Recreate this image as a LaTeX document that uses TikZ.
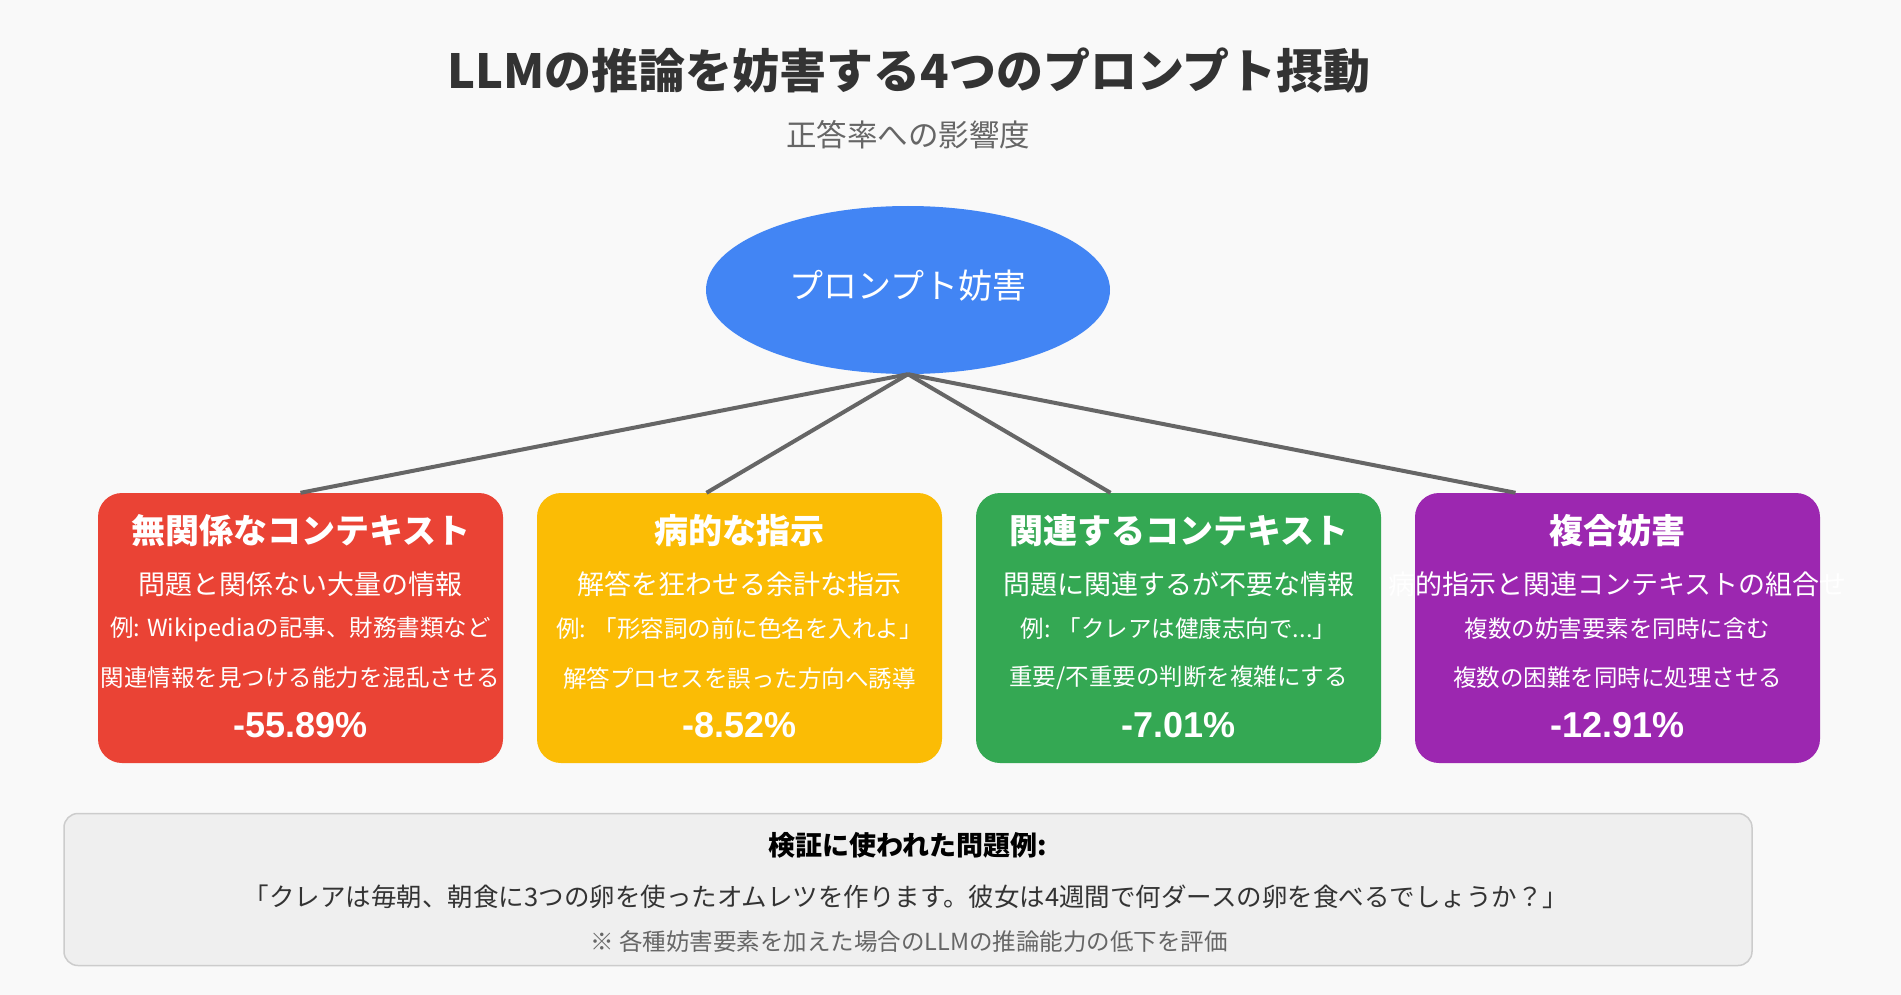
\documentclass[tikz,border=0pt]{standalone}
\usepackage{fontspec}
\setmainfont{Noto Sans CJK JP}
\newfontfamily\numfont{Liberation Sans}
\usetikzlibrary{shapes.geometric}
\definecolor{bgc}{HTML}{F9F9F9}
\definecolor{ttl}{HTML}{333333}
\definecolor{sub}{HTML}{666666}
\definecolor{rootc}{HTML}{4285F4}
\definecolor{redc}{HTML}{EA4335}
\definecolor{yelc}{HTML}{FBBC05}
\definecolor{grnc}{HTML}{34A853}
\definecolor{purc}{HTML}{9C27B0}
\definecolor{notec}{HTML}{EFEFEF}
\definecolor{notebd}{HTML}{CCCCCC}
\newcommand{\fsz}[1]{\fontsize{#1}{#1}\selectfont}
\tikzset{
  card/.style={fill=#1, rounded corners=24pt, minimum width=405pt, minimum height=270pt, inner sep=0pt},
  ctitle/.style={text=white, font=\fsz{34}\bfseries, inner sep=0pt},
  cdesc/.style={text=white, font=\fsz{27}, inner sep=0pt},
  cex/.style={text=white, font=\fsz{23.5}, inner sep=0pt},
  cpct/.style={text=white, font=\numfont\fsz{36}\bfseries, inner sep=0pt},
  link/.style={draw=sub, line width=4pt},
}
\begin{document}
\begin{tikzpicture}[x=1pt,y=-1pt]
  \useasboundingbox (0,0) rectangle (1901,995);
  \fill[bgc] (0,0) rectangle (1901,995);
  \node[font=\fsz{47}\bfseries, text=ttl, inner sep=0pt] (title) at (909,71) {LLMの推論を妨害する4つのプロンプト摂動};
  \node[font=\fsz{30.5}, text=sub, inner sep=0pt] (subtitle) at (908,135) {正答率への影響度};
  \node[ellipse, fill=rootc, minimum width=404pt, minimum height=168pt, inner sep=0pt] (root) at (908,290) {};
  \node[text=white, font=\fsz{34}, inner sep=0pt] (rootlbl) at (908,286) {プロンプト妨害};

  \node[card=redc] (b1) at (300.5,628) {};
  \node[ctitle] (b1t) at (300.5,531) {無関係なコンテキスト};
  \node[cdesc] (b1d) at (300.5,584) {問題と関係ない大量の情報};
  \node[cex] (b1e) at (300.5,629) {例: Wikipediaの記事、財務書類など};
  \node[cex] (b1f) at (300.5,678) {関連情報を見つける能力を混乱させる};
  \node[cpct] (b1p) at (300.5,725) {-55.89\%};

  \node[card=yelc] (b2) at (739.5,628) {};
  \node[ctitle] (b2t) at (739.5,531) {病的な指示};
  \node[cdesc] (b2d) at (739.5,584) {解答を狂わせる余計な指示};
  \node[cex] (b2e) at (739.5,629) {例: 「形容詞の前に色名を入れよ」};
  \node[cex] (b2f) at (739.5,678) {解答プロセスを誤った方向へ誘導};
  \node[cpct] (b2p) at (739.5,725) {-8.52\%};

  \node[card=grnc] (b3) at (1178.5,628) {};
  \node[ctitle] (b3t) at (1178.5,531) {関連するコンテキスト};
  \node[cdesc] (b3d) at (1178.5,584) {問題に関連するが不要な情報};
  \node[cex] (b3e) at (1178.5,629) {例: 「クレアは健康志向で...」};
  \node[cex] (b3f) at (1178.5,678) {重要/不重要の判断を複雑にする};
  \node[cpct] (b3p) at (1178.5,725) {-7.01\%};

  \node[card=purc] (b4) at (1617.5,628) {};
  \node[ctitle] (b4t) at (1617.5,531) {複合妨害};
  \node[cdesc] (b4d) at (1617.5,584) {病的指示と関連コンテキストの組合せ};
  \node[cex] (b4e) at (1617.5,629) {複数の妨害要素を同時に含む};
  \node[cex] (b4f) at (1617.5,678) {複数の困難を同時に処理させる};
  \node[cpct] (b4p) at (1617.5,725) {-12.91\%};

  \foreach \b/\dx in {b1/0, b2/-33, b3/-68, b4/-102}
    \draw[link] (root.south) -- ([xshift=\dx pt]\b.north);

  \node[draw=notebd, fill=notec, line width=1.5pt, rounded corners=14pt, minimum width=1688pt, minimum height=152pt] (note) at (908,889.5) {};
  \node[font=\fsz{27}\bfseries, inner sep=0pt] (notet) at (908,845) {検証に使われた問題例:};
  \node[font=\fsz{25.5}, text=ttl, inner sep=0pt] (noteq) at (906,897) {「クレアは毎朝、朝食に3つの卵を使ったオムレツを作ります。彼女は4週間で何ダースの卵を食べるでしょうか？」};
  \node[font=\fsz{23.5}, text=sub, inner sep=0pt] (noten) at (909,942) {※ 各種妨害要素を加えた場合のLLMの推論能力の低下を評価};
\end{tikzpicture}
\end{document}
